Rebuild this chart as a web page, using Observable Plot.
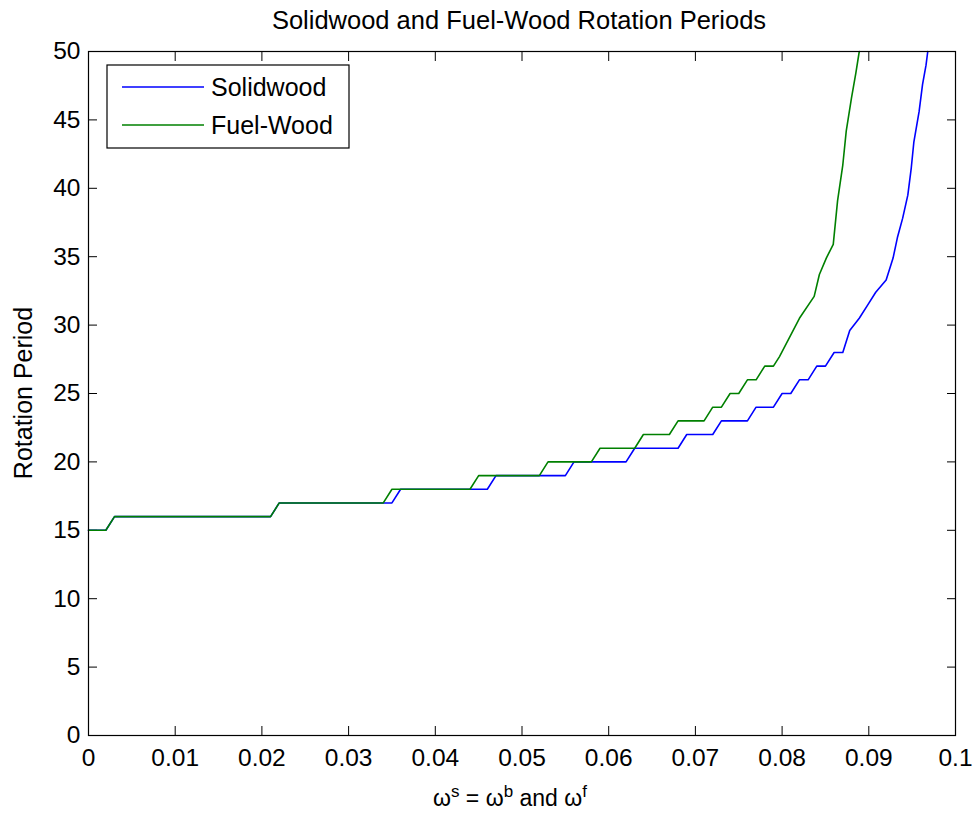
<!DOCTYPE html>
<html><head><meta charset="utf-8">
<script src="https://cdn.jsdelivr.net/npm/d3@7"></script>
<script src="https://cdn.jsdelivr.net/npm/@observablehq/plot@0.6"></script>
<style>body{margin:0;background:#fff} svg{display:block}</style>
</head><body><div id="chart"></div>
<script>
const chartTitle = "Solidwood and Fuel-Wood Rotation Periods";
const yLabel = "Rotation Period";
const seriesNames = ["Solidwood", "Fuel-Wood"];
const seriesColors = ["#0000ff", "#008000"];

// Solidwood (blue)
const solidX = [0, 0.002, 0.003, 0.021, 0.022, 0.035, 0.036, 0.046, 0.047, 0.055, 0.056, 0.062, 0.063, 0.068, 0.069, 0.072, 0.073, 0.076, 0.077, 0.079, 0.080, 0.081, 0.082, 0.083, 0.084, 0.085, 0.086, 0.087, 0.0878, 0.0889, 0.0899, 0.0908, 0.0920, 0.0928, 0.0933, 0.0939, 0.0945, 0.0949, 0.0952, 0.0958, 0.0962, 0.0966, 0.0968];
const solidY = [15, 15, 16, 16, 17, 17, 18, 18, 19, 19, 20, 20, 21, 21, 22, 22, 23, 23, 24, 24, 25, 25, 26, 26, 27, 27, 28, 28, 29.6, 30.5, 31.5, 32.4, 33.3, 34.9, 36.4, 37.8, 39.5, 41.5, 43.4, 45.6, 47.6, 49, 50];

// Fuel-Wood (green)
const fuelX = [0, 0.002, 0.003, 0.021, 0.022, 0.034, 0.035, 0.044, 0.045, 0.052, 0.053, 0.058, 0.059, 0.063, 0.064, 0.067, 0.068, 0.071, 0.072, 0.073, 0.074, 0.075, 0.076, 0.077, 0.078, 0.079, 0.0797, 0.0820, 0.0837, 0.0843, 0.0851, 0.0859, 0.0864, 0.0870, 0.0874, 0.0880, 0.0885, 0.0889];
const fuelY = [15, 15, 16, 16, 17, 17, 18, 18, 19, 19, 20, 20, 21, 21, 22, 22, 23, 23, 24, 24, 25, 25, 26, 26, 27, 27, 27.7, 30.5, 32.1, 33.7, 34.9, 35.9, 39.1, 41.7, 44.2, 46.6, 48.4, 50];

const xTicks = [0, 0.01, 0.02, 0.03, 0.04, 0.05, 0.06, 0.07, 0.08, 0.09, 0.1];
const xTickLabels = ["0", "0.01", "0.02", "0.03", "0.04", "0.05", "0.06", "0.07", "0.08", "0.09", "0.1"];
const yTicks = [0, 5, 10, 15, 20, 25, 30, 35, 40, 45, 50];

const rows = [
  ...solidX.map((x, i) => ({series: seriesNames[0], x, y: solidY[i]})),
  ...fuelX.map((x, i) => ({series: seriesNames[1], x, y: fuelY[i]}))
];

const font = "Arial, 'Liberation Sans', sans-serif";
const chart = Plot.plot({
  width: 973, height: 814,
  marginLeft: 88, marginRight: 18, marginTop: 51, marginBottom: 79,
  style: {fontFamily: font, fontSize: "24.5px", background: "#fff", color: "#000"},
  x: {domain: [0, 0.1]},
  y: {domain: [0, 50]},
  color: {domain: seriesNames, range: seriesColors},
  marks: [
    Plot.axisX(xTicks, {anchor: "bottom", tickSize: -9, tickPadding: 22, tickFormat: d => xTickLabels[xTicks.indexOf(d)], label: null, fontSize: 24.5}),
    Plot.axisX(xTicks, {anchor: "top", tickSize: -9, tickFormat: () => "", label: null}),
    Plot.axisY(yTicks, {anchor: "left", tickSize: -9, tickPadding: 17, label: null, fontSize: 24.5}),
    Plot.axisY(yTicks, {anchor: "right", tickSize: -9, tickFormat: () => "", label: null}),
    Plot.line(rows, {x: "x", y: "y", z: "series", stroke: "series", strokeWidth: 1.6}),
    Plot.frame({stroke: "#000", strokeWidth: 1.2})
  ]
});
document.getElementById("chart").appendChild(chart);

const svg = d3.select(chart);
// title
svg.append("text").attr("x", 519).attr("y", 29).attr("text-anchor", "middle")
  .attr("font-family", font).attr("font-size", 25.5).attr("fill", "#000").text(chartTitle);
// y label
svg.append("text").attr("transform", "translate(32,393) rotate(-90)").attr("text-anchor", "middle")
  .attr("font-family", font).attr("font-size", 25).attr("fill", "#000").text(yLabel);
// x label with superscripts
const xl = svg.append("text").attr("x", 510).attr("y", 806).attr("text-anchor", "middle")
  .attr("font-family", font).attr("font-size", 23).attr("fill", "#000");
const parts = [["ω", false], ["s", true], [" = ω", false], ["b", true], [" and ω", false], ["f", true]];
parts.forEach(([t, sup]) => {
  const ts = xl.append("tspan").text(t);
  if (sup) ts.attr("baseline-shift", "super").attr("font-size", 17);
});
// legend
const lg = svg.append("g");
lg.append("rect").attr("x", 107).attr("y", 65).attr("width", 242).attr("height", 83)
  .attr("fill", "#fff").attr("stroke", "#000").attr("stroke-width", 1.2);
seriesNames.forEach((name, i) => {
  const yy = 87 + i * 38;
  lg.append("line").attr("x1", 122).attr("x2", 204).attr("y1", yy).attr("y2", yy)
    .attr("stroke", seriesColors[i]).attr("stroke-width", 1.6);
  lg.append("text").attr("x", 211).attr("y", yy).attr("dy", "0.35em").attr("text-anchor", "start")
    .attr("font-family", font).attr("font-size", 25).attr("fill", "#000").text(name);
});
</script>
</body></html>
